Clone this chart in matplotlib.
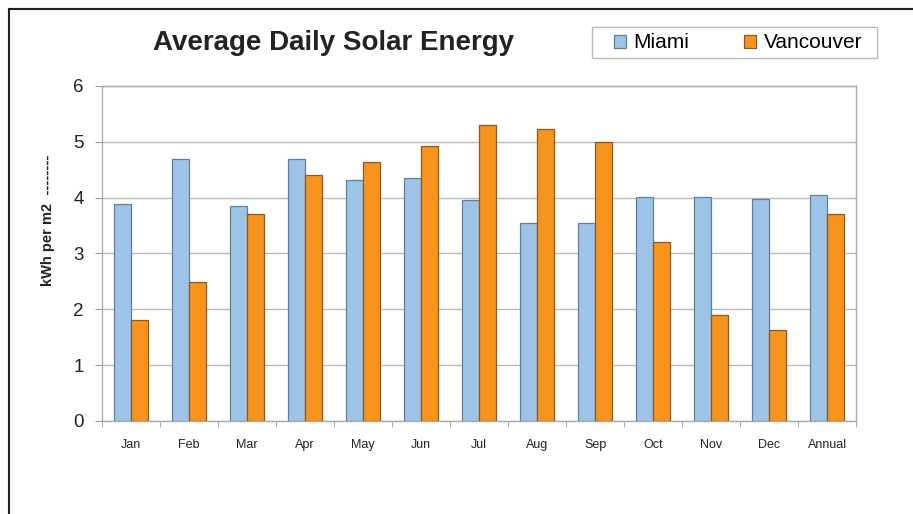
import matplotlib.pyplot as plt
import matplotlib.lines as mlines
import matplotlib.patches as mpatches
import numpy as np

plt.rcParams["font.family"] = ["Liberation Sans", "DejaVu Sans"]

categories = ["Jan", "Feb", "Mar", "Apr", "May", "Jun", "Jul",
              "Aug", "Sep", "Oct", "Nov", "Dec", "Annual"]
miami = [3.89, 4.69, 3.84, 4.69, 4.31, 4.35, 3.95, 3.54, 3.54, 4.01, 4.01, 3.97, 4.05]
vancouver = [1.80, 2.49, 3.71, 4.40, 4.63, 4.92, 5.30, 5.22, 5.00, 3.20, 1.90, 1.62, 3.71]

W, H = 913, 514
fig = plt.figure(figsize=(W / 100, H / 100), dpi=100)
ax = fig.add_axes([0.1117, 0.181, 0.826, 0.652])

x = np.arange(len(categories))
width = 0.29
ax.bar(x - width / 2, miami, width, color="#9DC3E6", edgecolor="#5F7F9F",
       linewidth=0.9, label="Miami", zorder=3)
ax.bar(x + width / 2, vancouver, width, color="#F7941D", edgecolor="#8A5A1E",
       linewidth=0.9, label="Vancouver", zorder=3)

ax.set_xlim(-0.5, len(categories) - 0.5)
ax.set_ylim(0, 6)
ax.set_yticks(range(7))
ax.tick_params(axis="y", labelsize=13.5, length=5, color="#999999",
               pad=8, labelcolor="#222222")
ax.set_xticks(x, categories)
ax.set_xticks(np.arange(-0.5, len(categories)), minor=True)
ax.tick_params(axis="x", which="major", length=0, labelsize=9,
               pad=13, labelcolor="#222222")
ax.tick_params(axis="x", which="minor", length=4, color="#999999")
ax.grid(axis="y", color="#BBBBBB", linewidth=1, zorder=0)
for spine in ax.spines.values():
    spine.set_color("#AAAAAA")
    spine.set_linewidth(1)

fig.text(48 / W, 1 - 220 / H, "kWh per m2  --------", fontsize=10.5,
         fontweight="bold", color="#222222", rotation=90,
         ha="center", va="center")

fig.text(333 / W, 1 - 43 / H, "Average Daily Solar Energy", fontsize=20,
         fontweight="bold", color="#222222", ha="center", va="center")

# legend box drawn separately so it can be as wide as the original
fig.add_artist(mpatches.Rectangle((592 / W, 1 - 58 / H), 285 / W, 31 / H,
                                  facecolor="white", edgecolor="#BBBBBB",
                                  linewidth=1, transform=fig.transFigure))
fig.legend(loc="center", bbox_to_anchor=(738 / W, 1 - 43 / H), ncols=2,
           fontsize=15, frameon=False,
           handlelength=0.6, handleheight=0.6, handletextpad=0.35,
           columnspacing=2.6, borderpad=0.3)

# outer frame: top and left edges
fig.add_artist(mlines.Line2D([9 / W, 1], [1 - 9 / H, 1 - 9 / H],
                             color="#222222", linewidth=1.5,
                             transform=fig.transFigure))
fig.add_artist(mlines.Line2D([9 / W, 9 / W], [0, 1 - 9 / H],
                             color="#222222", linewidth=1.5,
                             transform=fig.transFigure))

fig.savefig("out.png", dpi=100)
